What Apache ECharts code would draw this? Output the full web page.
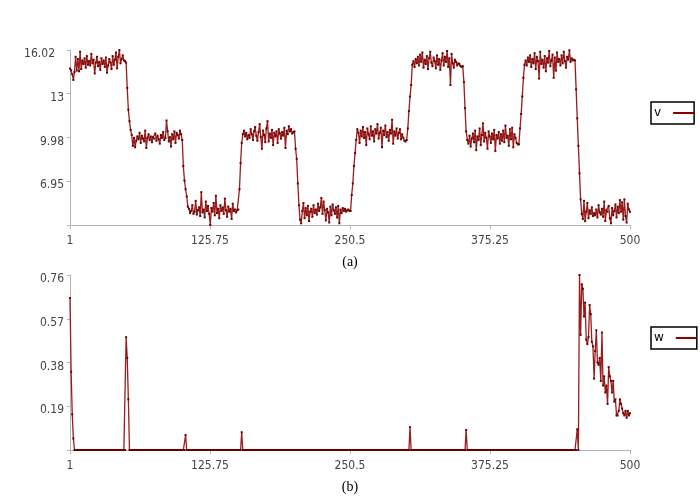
<!DOCTYPE html>
<html><head><meta charset="utf-8">
<script src="https://cdn.jsdelivr.net/npm/echarts@6/dist/echarts.min.js"></script>
<style>html,body{margin:0;padding:0;background:#fff}#c{width:700px;height:500px}</style>
</head><body><div id="c"></div>
<script>
// Series v (points 1..500)
const vValues = [
  14.75, 14.62, 14.35, 13.95, 14.50, 15.55, 14.60, 15.40, 14.55, 15.90,
  14.70, 15.30, 15.05, 15.45, 14.80, 15.60, 15.00, 15.25, 14.95, 15.75,
  15.10, 15.35, 14.40, 15.15, 15.55, 14.90, 15.20, 14.65, 15.45, 15.05,
  15.30, 14.85, 15.50, 14.45, 14.95, 15.40, 15.15, 14.70, 15.60, 15.00,
  15.35, 15.85, 14.75, 15.55, 16.02, 15.10, 15.40, 15.65, 15.30, 15.25,
  15.15, 13.40, 11.90, 11.10, 10.50,
  10.15, 9.40, 9.95, 9.30, 9.75, 10.05, 9.85, 10.30, 9.60, 10.10,
  9.90, 9.70, 10.45, 9.25, 9.95, 10.20, 9.80, 10.05, 9.65, 10.00,
  9.90, 10.25, 9.75, 10.10, 9.85, 9.55, 10.15, 9.95, 10.35, 9.80,
  9.95, 11.15, 10.40, 9.70, 10.00, 9.35, 10.20, 9.85, 10.40, 9.60,
  10.30, 10.15, 9.90, 10.45, 10.20,
  9.80, 8.00, 7.00, 6.40, 5.90, 5.20,
  5.05, 4.75, 4.90, 5.30, 4.70, 4.85, 5.60, 4.65, 4.95, 5.15,
  4.55, 6.20, 4.80, 5.00, 4.45, 5.55, 4.90, 5.25, 4.70, 3.93,
  5.10, 4.85, 5.45, 4.60, 5.95, 4.75, 5.05, 4.40, 5.30, 4.90,
  5.15, 4.70, 5.75, 4.95, 4.50, 5.20, 4.85, 5.05, 4.35, 5.40,
  4.90, 5.00, 4.80, 4.95,
  5.00, 6.40, 8.20, 9.60, 10.20,
  10.45, 10.05, 10.30, 9.85, 10.15, 9.95, 10.55, 10.20, 9.80, 10.40,
  10.70, 10.10, 9.75, 10.35, 10.90, 10.00, 9.20, 10.45, 10.15, 9.65,
  10.60, 11.10, 9.70, 10.25, 9.95, 10.50, 9.45, 10.30, 10.05, 10.40,
  9.60, 10.55, 10.25, 9.90, 10.35, 10.10, 10.65, 9.25, 10.45, 10.20,
  10.75, 10.40, 10.55, 10.25, 10.35,
  10.40, 9.20, 8.50, 6.80, 5.30, 4.30,
  4.05, 4.90, 5.45, 4.40, 5.10, 4.60, 5.25, 4.20, 4.85, 5.05,
  4.50, 5.30, 4.75, 5.00, 4.65, 5.40, 4.90, 5.15, 5.80, 4.70,
  5.55, 4.95, 4.25, 5.05, 4.80, 4.10, 5.20, 4.60, 5.35, 4.95,
  4.70, 5.15, 4.45, 5.25, 4.05, 5.00, 4.75, 5.10, 4.90, 5.05,
  4.85, 4.95, 5.00, 4.90,
  4.90, 6.00, 6.80, 8.00, 8.90, 9.80,
  10.55, 10.30, 9.60, 10.45, 10.05, 10.70, 9.95, 10.35, 9.45, 10.60,
  10.20, 9.85, 10.75, 10.10, 10.40, 9.70, 10.55, 10.25, 10.90, 9.90,
  10.30, 10.65, 9.30, 10.45, 10.15, 10.80, 10.00, 10.35, 9.75, 10.50,
  10.25, 11.20, 9.55, 10.40, 10.10, 10.60, 9.90, 10.30, 10.55, 9.85,
  10.20, 9.95, 9.75, 9.70,
  9.80, 10.60, 11.80, 12.80, 13.60, 15.00,
  15.25, 14.85, 15.40, 15.10, 15.55, 14.95, 15.70, 15.20, 15.85, 14.80,
  15.35, 15.05, 15.60, 14.70, 15.45, 15.90, 15.15, 14.90, 15.50, 15.25,
  14.75, 15.65, 15.00, 15.40, 14.65, 15.30, 15.80, 14.95, 15.55, 15.20,
  15.95, 14.85, 15.45, 13.60, 15.75, 15.10, 14.80, 15.35, 15.20, 14.95,
  15.10, 15.05, 14.90, 14.85,
  14.90, 13.80, 12.00, 10.40, 9.80,
  9.55, 10.10, 9.35, 9.90, 10.25, 9.65, 10.45, 9.10, 10.05, 9.80,
  10.60, 9.45, 10.15, 10.95, 9.70, 10.30, 9.95, 9.20, 10.40, 10.05,
  9.60, 10.25, 9.85, 10.50, 9.05, 10.15, 9.90, 10.35, 9.55, 10.20,
  9.75, 10.45, 9.65, 10.80, 9.95, 10.10, 9.40, 10.55, 9.85, 10.65,
  9.30, 10.20, 9.95, 9.60, 9.50,
  9.50, 10.60, 11.60, 12.80, 14.10, 15.00,
  15.30, 14.95, 15.50, 15.20, 15.65, 14.85, 15.40, 15.10, 15.80, 14.70,
  15.55, 15.25, 14.05, 15.90, 15.05, 15.35, 14.80, 15.60, 14.55, 15.45,
  15.15, 15.95, 14.90, 15.30, 15.70, 14.10, 15.50, 14.60, 15.85, 15.20,
  15.40, 14.95, 15.65, 15.10, 15.90, 15.25, 14.80, 15.55, 15.35, 16.00,
  15.20, 15.45, 15.30, 15.35,
  15.30, 13.30, 11.30, 9.40, 7.50, 5.70, 4.70,
  4.35, 5.60, 4.20, 4.85, 5.45, 4.40, 4.95, 4.70, 5.15, 4.55,
  4.75, 4.60, 5.00, 4.45, 5.30, 4.80, 4.65, 5.05, 4.50, 5.55,
  4.20, 4.95, 4.85, 5.25, 4.40, 4.05, 5.10, 4.60, 4.90, 5.35,
  4.45, 5.20, 4.75, 5.65, 4.85, 5.50, 4.30, 5.70, 4.55, 4.10,
  5.40, 5.00, 4.85
];

// Series w (points 1..500), 25 per row
const wValues = [
  0.66,0.34,0.155,0.05,0,0,0,0,0,0,0,0,0,0,0,0,0,0,0,0,0,0,0,0,0,
  0,0,0,0,0,0,0,0,0,0,0,0,0,0,0,0,0,0,0,0,0,0,0,0,0,
  0.49,0.40,0.22,0,0,0,0,0,0,0,0,0,0,0,0,0,0,0,0,0,0,0,0,0,0,
  0,0,0,0,0,0,0,0,0,0,0,0,0,0,0,0,0,0,0,0,0,0,0,0,0,
  0,0,0,0.065,0,0,0,0,0,0,0,0,0,0,0,0,0,0,0,0,0,0,0,0,0,
  0,0,0,0,0,0,0,0,0,0,0,0,0,0,0,0,0,0,0,0,0,0,0,0,0,
  0,0,0,0.077,0,0,0,0,0,0,0,0,0,0,0,0,0,0,0,0,0,0,0,0,0,
  0,0,0,0,0,0,0,0,0,0,0,0,0,0,0,0,0,0,0,0,0,0,0,0,0,
  0,0,0,0,0,0,0,0,0,0,0,0,0,0,0,0,0,0,0,0,0,0,0,0,0,
  0,0,0,0,0,0,0,0,0,0,0,0,0,0,0,0,0,0,0,0,0,0,0,0,0,
  0,0,0,0,0,0,0,0,0,0,0,0,0,0,0,0,0,0,0,0,0,0,0,0,0,
  0,0,0,0,0,0,0,0,0,0,0,0,0,0,0,0,0,0,0,0,0,0,0,0,0,
  0,0,0,0.099,0,0,0,0,0,0,0,0,0,0,0,0,0,0,0,0,0,0,0,0,0,
  0,0,0,0,0,0,0,0,0,0,0,0,0,0,0,0,0,0,0,0,0,0,0,0,0,
  0,0,0,0.087,0,0,0,0,0,0,0,0,0,0,0,0,0,0,0,0,0,0,0,0,0,
  0,0,0,0,0,0,0,0,0,0,0,0,0,0,0,0,0,0,0,0,0,0,0,0,0,
  0,0,0,0,0,0,0,0,0,0,0,0,0,0,0,0,0,0,0,0,0,0,0,0,0,
  0,0,0,0,0,0,0,0,0,0,0,0,0,0,0,0,0,0,0,0,0,0,0,0,0,
  0,0,0.09,0,0.76,0.50,0.72,0.70,0.58,0.64,0.48,0.46,0.49,0.63,0.59,0.47,0.45,0.31,0.43,0.52,0.38,0.37,0.40,0.30,0.51,
  0.28,0.32,0.25,0.28,0.20,0.36,0.32,0.30,0.25,0.30,0.21,0.22,0.15,0.15,0.17,0.22,0.20,0.18,0.16,0.15,0.17,0.14,0.17,0.15,0.16
];

const xTickLabels = ['1', '125.75', '250.5', '375.25', '500'];
const vTickLabels = ['', '6.95', '9.98', '13', '16.02'];
const wTickLabels = ['', '0.19', '0.38', '0.57', '0.76'];
const panelTitles = ['(a)', '(b)'];
const seriesNames = ['v', 'w'];

const X_MIN = 1, X_MAX = 500, X_INT = 124.75;
const V_MIN = 3.93, V_MAX = 16.02, V_INT = 3.0225;
const W_MIN = 0, W_MAX = 0.76, W_INT = 0.19;

const tickFont = "'Liberation Sans Narrow', 'DejaVu Sans Condensed', 'Liberation Sans', sans-serif";
const axisGray = '#b4b4b4';
const labelColor = '#444';
const lineColor = '#9a1c1c';
const dotColor = '#6a0000';

function xAxisFor(gi, title) {
  return {
    type: 'value', gridIndex: gi, min: X_MIN, max: X_MAX, interval: X_INT,
    name: title, nameLocation: 'middle', nameGap: 30,
    nameTextStyle: { fontFamily: "'Liberation Serif', serif", fontSize: 14, color: '#000' },
    axisLine: { lineStyle: { color: axisGray, width: 1 } },
    axisTick: { length: 4, lineStyle: { color: axisGray } },
    splitLine: { show: false },
    axisLabel: {
      margin: 10, fontFamily: tickFont, fontSize: 12, color: labelColor,
      formatter: v => xTickLabels[Math.round((v - X_MIN) / X_INT)] || ''
    }
  };
}
function yAxisFor(gi, min, max, itv, labels) {
  return {
    type: 'value', gridIndex: gi, min: min, max: max, interval: itv,
    axisLine: { show: true, lineStyle: { color: axisGray, width: 1 } },
    axisTick: { show: true, length: 3, lineStyle: { color: axisGray } },
    splitLine: { show: false },
    axisLabel: {
      margin: 6, fontFamily: tickFont, fontSize: 12, color: labelColor,
      padding: [8, 0, 0, 0],
      formatter: v => {
        const idx = Math.round((v - min) / itv);
        const s = labels[idx] || '';
        if (gi === 0 && idx === labels.length - 1) return '{t|' + s + '}';
        return s;
      },
      rich: { t: { fontFamily: tickFont, fontSize: 12, color: labelColor, padding: [0, 9, 0, 0] } }
    }
  };
}
function seriesFor(i, values) {
  return {
    type: 'line', name: seriesNames[i], xAxisIndex: i, yAxisIndex: i,
    data: values.map((y, k) => [k + 1, y]),
    showSymbol: true, showAllSymbol: true, symbol: 'rect', symbolSize: 2,
    itemStyle: { color: dotColor },
    lineStyle: { color: lineColor, width: 1.3 },
    emphasis: { disabled: true }, silent: true
  };
}
function legendFor(i, top) {
  return {
    data: [{ name: seriesNames[i], icon: 'rect', itemStyle: { color: '#8b0000' } }],
    left: 651, top: top, orient: 'vertical', align: 'right',
    itemWidth: 21, itemHeight: 2, itemGap: 0,
    padding: [5, 0, 5, 3],
    borderColor: '#000', borderWidth: 1.5, borderRadius: 0,
    selectedMode: false,
    formatter: name => '{n|' + name + '}',
    textStyle: {
      fontFamily: "'DejaVu Sans', sans-serif", fontSize: 12, color: '#000',
      rich: { n: { fontFamily: "'DejaVu Sans', sans-serif", fontSize: 12, color: '#000', padding: [0, 7, 0, 0] } }
    }
  };
}

const chart = echarts.init(document.getElementById('c'), null, { renderer: 'canvas' });
chart.setOption({
  animation: false,
  backgroundColor: '#fff',
  grid: [
    { left: 70, top: 50, width: 560, height: 175 },
    { left: 70, top: 275, width: 560, height: 175 }
  ],
  xAxis: [xAxisFor(0, panelTitles[0]), xAxisFor(1, panelTitles[1])],
  yAxis: [yAxisFor(0, V_MIN, V_MAX, V_INT, vTickLabels), yAxisFor(1, W_MIN, W_MAX, W_INT, wTickLabels)],
  legend: [legendFor(0, 102), legendFor(1, 327)],
  series: [seriesFor(0, vValues), seriesFor(1, wValues)]
});
</script></body></html>
